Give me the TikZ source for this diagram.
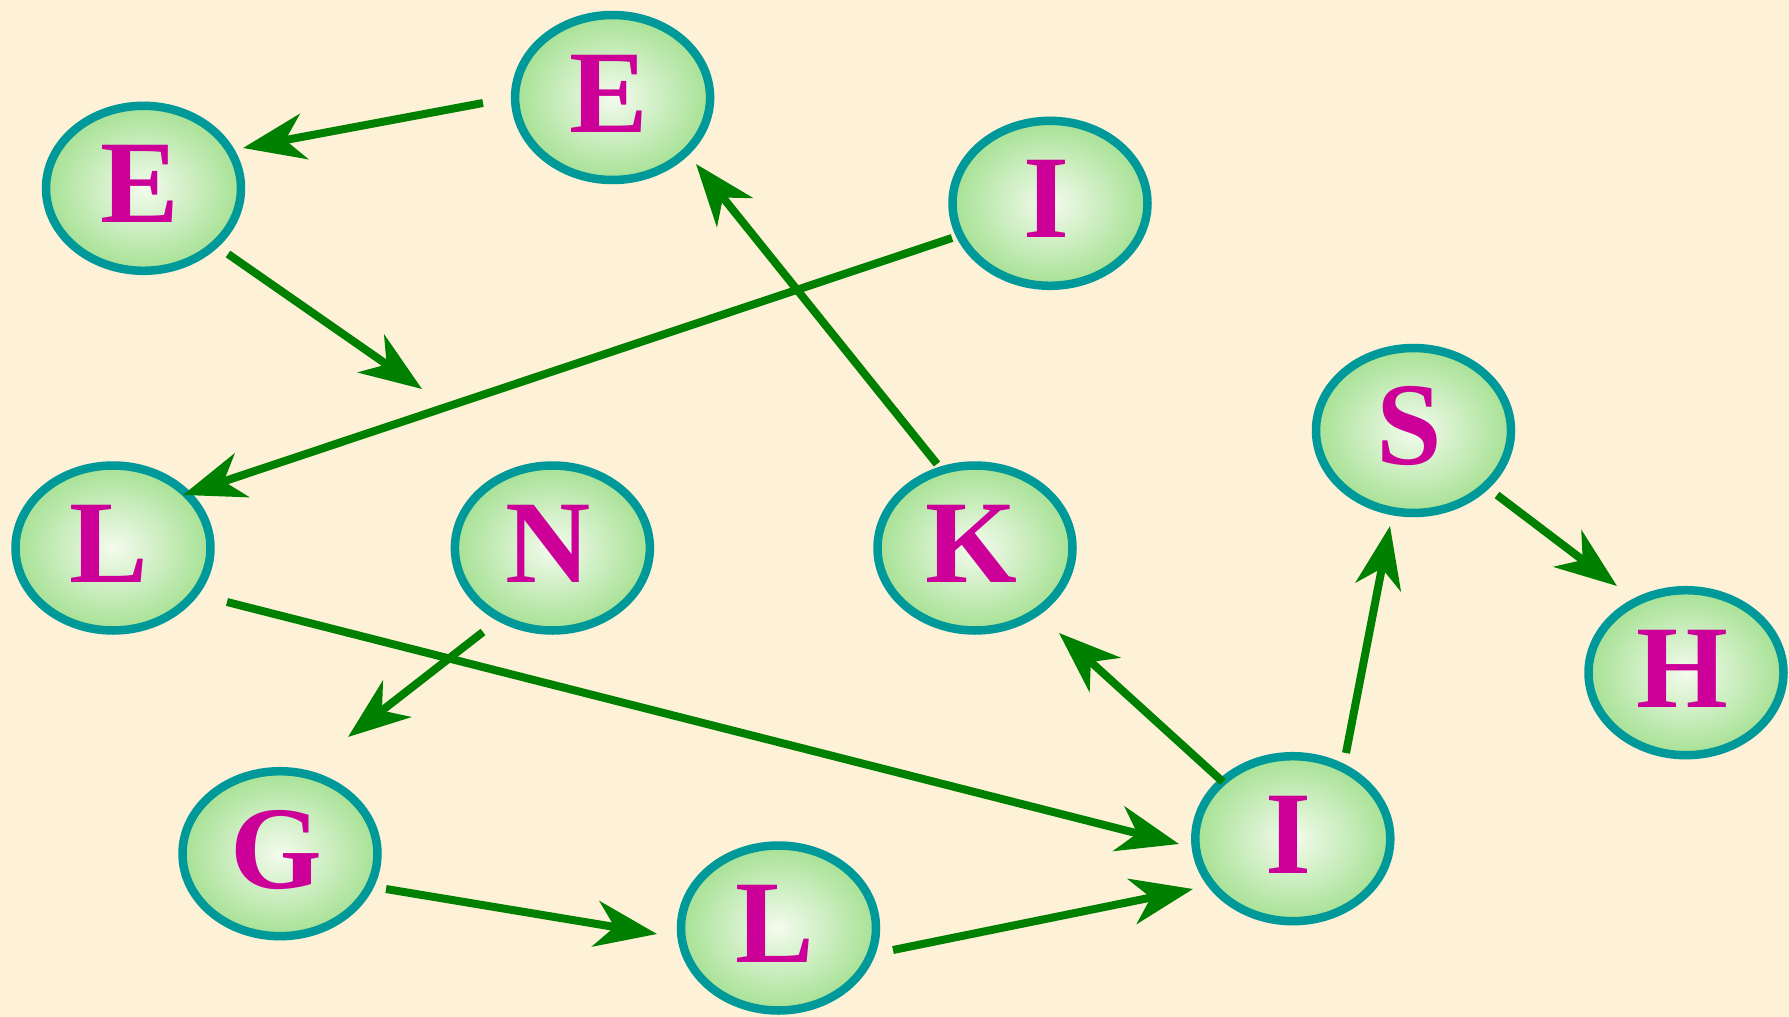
\documentclass[tikz,border=0pt]{standalone}
\usepackage{fontspec}
\setmainfont{Liberation Serif}
\usetikzlibrary{arrows.meta,shapes.geometric}
\definecolor{bg}{RGB}{253,241,216}
\definecolor{rim}{RGB}{0,153,153}
\definecolor{fillin}{RGB}{244,251,238}
\definecolor{fillout}{RGB}{166,225,148}
\definecolor{lettercol}{RGB}{204,0,153}
\definecolor{arrowgreen}{RGB}{0,128,0}
\newcommand{\lt}[1]{\raisebox{4pt}[\height][\depth]{#1}\hspace*{8pt}}
\begin{document}
\begin{tikzpicture}[x=1pt,y=-1pt,
  vnode/.style={ellipse, draw=rim, line width=8.5pt, shading=radial,
    inner color=fillin, outer color=fillout,
    minimum width=195pt, minimum height=165pt, inner sep=0pt,
    text=lettercol, font=\fontsize{118}{118}\selectfont\bfseries},
  arr/.style={draw=arrowgreen, line width=8pt,
    -{Stealth[length=62pt,width=46pt,inset=19pt]}}]
\fill[bg] (0,0) rectangle (1789,1017);
\useasboundingbox (0,0) rectangle (1789,1017);
% nodes
\node[vnode] (E1) at (143.5,188.3) {\lt{E}};
\node[vnode] (E2) at (612.6,97.5) {\lt{E}};
\node[vnode] (I1) at (1050,203.3) {\lt{I}};
\node[vnode] (L1) at (113,548) {\lt{L}};
\node[vnode] (N) at (552.4,548) {\lt{N}};
\node[vnode] (K) at (975,548) {\lt{K}};
\node[vnode] (S) at (1413.5,430.5) {\lt{S}};
\node[vnode] (H) at (1686,672.7) {\lt{H}};
\node[vnode] (G) at (280,853.7) {\lt{G}};
\node[vnode] (L2) at (778.5,928) {\lt{L}};
\node[vnode] (I2) at (1292.8,838.7) {\lt{I}};
% connector end points
\coordinate (a1s) at (483,103);   \coordinate (a1e) at (243,148);
\coordinate (a2s) at (228,254);   \coordinate (a2e) at (422,389);
\coordinate (a3s) at (952,238);   \coordinate (a3e) at (183,495);
\coordinate (a4s) at (937,464);   \coordinate (a4e) at (696,164);
\coordinate (a5s) at (227,602);   \coordinate (a5e) at (1179,844);
\coordinate (a6s) at (483,632);   \coordinate (a6e) at (348,737);
\coordinate (a7s) at (386,889);   \coordinate (a7e) at (657,934);
\coordinate (a8s) at (893,950);   \coordinate (a8e) at (1193,889);
\coordinate (a9s) at (1223,782);  \coordinate (a9e) at (1059,633);
\coordinate (a10s) at (1346,753); \coordinate (a10e) at (1390,526);
\coordinate (a11s) at (1497,495); \coordinate (a11e) at (1617,586);
% connectors
\draw[arr] (a1s) -- (a1e);
\draw[arr] (a2s) -- (a2e);
\draw[arr] (a3s) -- (a3e);
\draw[arr] (a4s) -- (a4e);
\draw[arr] (a5s) -- (a5e);
\draw[arr] (a6s) -- (a6e);
\draw[arr] (a7s) -- (a7e);
\draw[arr] (a8s) -- (a8e);
\draw[arr] (a9s) -- (a9e);
\draw[arr] (a10s) -- (a10e);
\draw[arr] (a11s) -- (a11e);
\end{tikzpicture}
\end{document}
